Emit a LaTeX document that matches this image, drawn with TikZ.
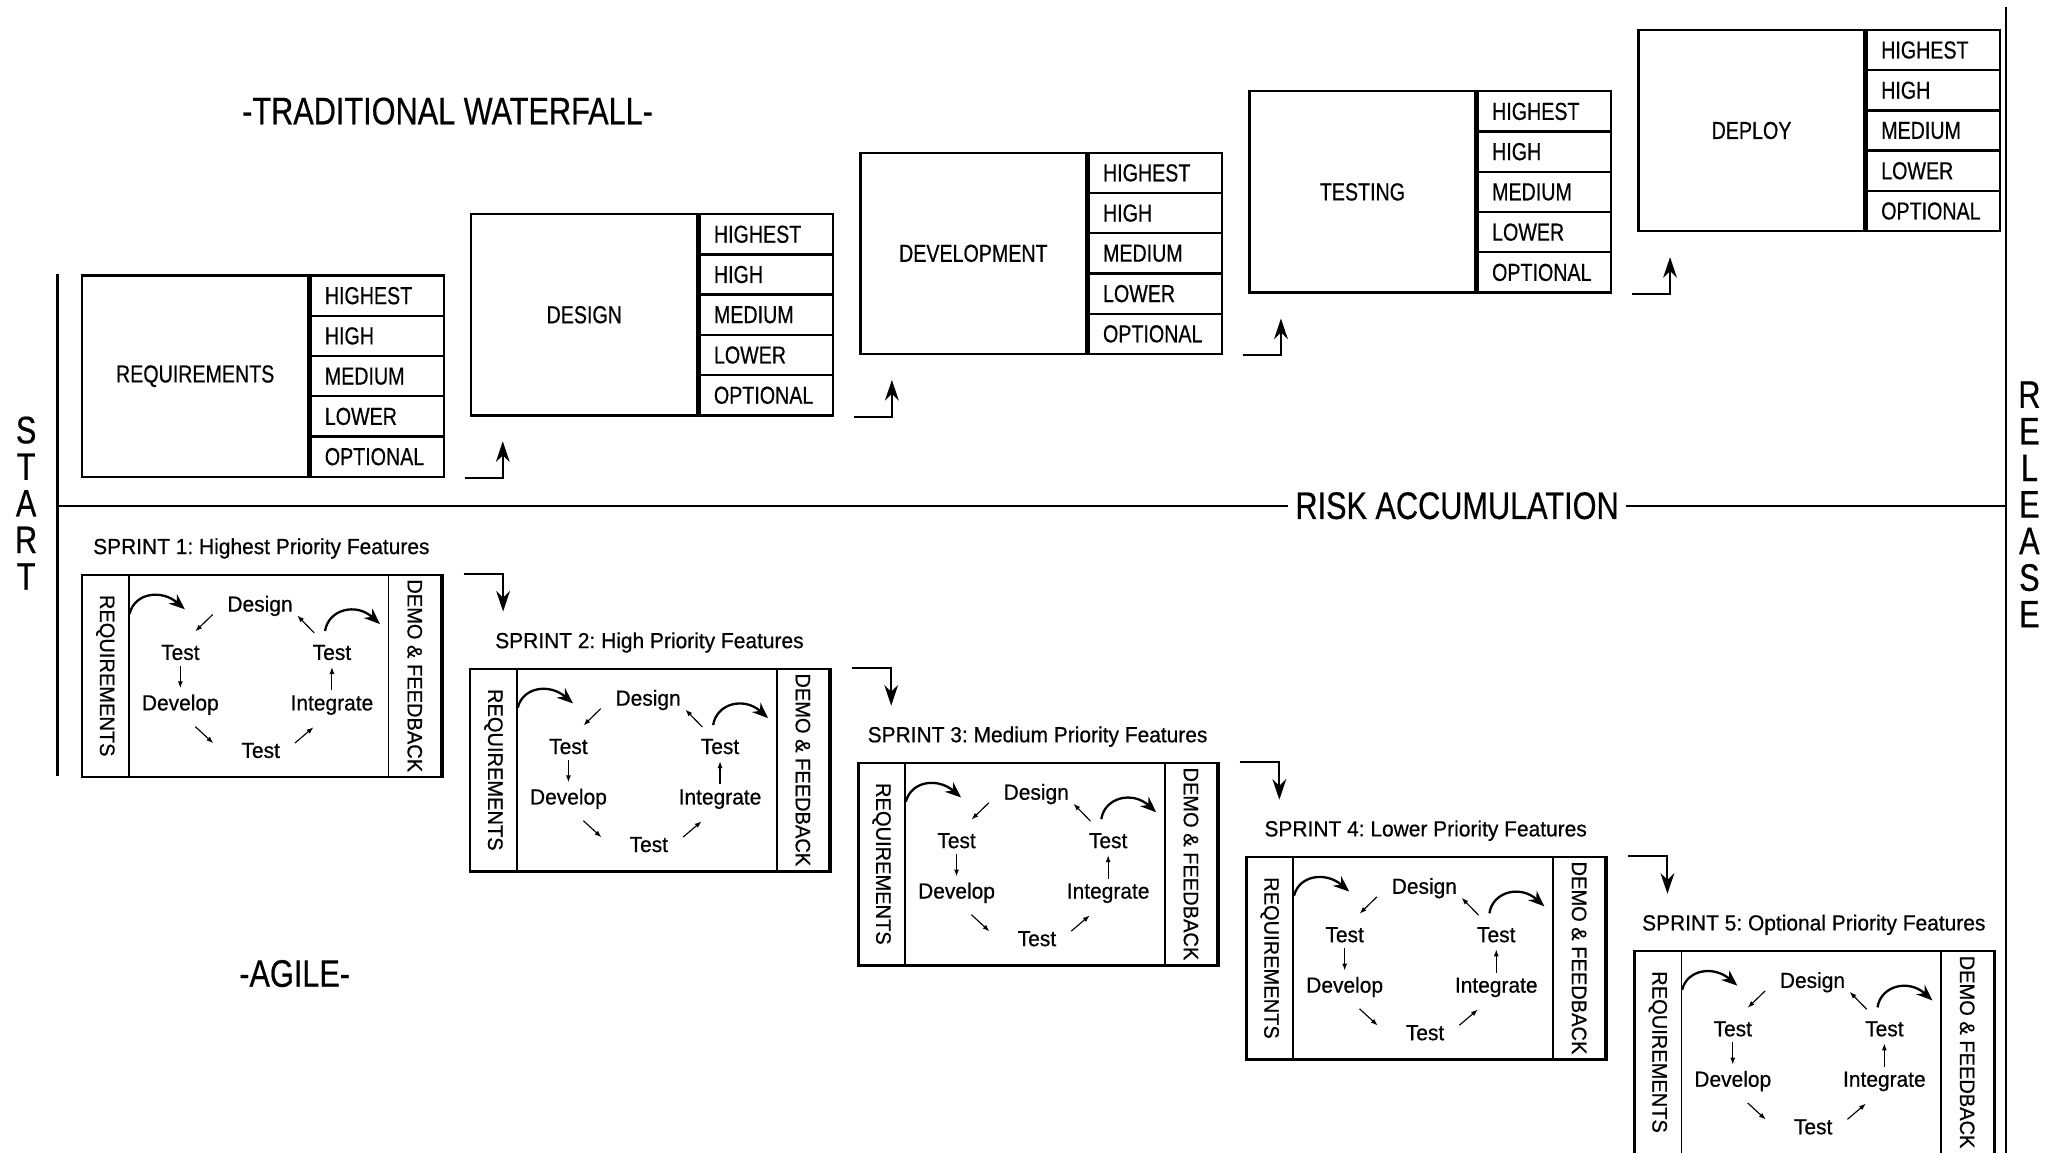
\documentclass[tikz,border=0pt]{standalone}
\usepackage{fontspec}
\setmainfont{Liberation Sans}[FakeStretch=0.8, FakeBold=0.5]
\newfontfamily\sprintfont{Liberation Sans}[FakeStretch=0.96, FakeBold=0.6]
\frenchspacing
\usetikzlibrary{calc}
\usetikzlibrary{arrows.meta}
\tikzset{>=latex}
\tikzset{
  bigtext/.style={font=\fontsize{16.7}{15.94}\selectfont, inner sep=0pt},
  stagebox/.style={draw, line width=1pt, minimum width=3.46cm, minimum height=3.08cm, inner sep=0pt, font=\fontsize{10.7}{12}\selectfont},
  priobox/.style={draw, line width=1pt, minimum width=2.04cm, minimum height=0.616cm, inner sep=0pt, text width=1.6cm, align=left, font=\fontsize{10.7}{12}\selectfont},
  flow/.style={line width=0.9pt, -{Stealth[length=9pt,width=6pt]}},
  sprintbox/.style={draw, line width=1pt, minimum width=5.52cm, minimum height=3.1cm, inner sep=0pt},
  colbox/.style={draw, line width=0.7pt, minimum height=3.1cm, inner sep=0pt},
  coltext/.style={font=\sprintfont\fontsize{9.1}{11}\selectfont, inner sep=0pt, rotate=-90},
  cyc/.style={font=\sprintfont\fontsize{9.5}{11}\selectfont, inner sep=0pt, anchor=base},
  cycarrow/.style={line width=0.5pt, -{Latex[length=3pt,width=2.2pt]}},
  curvearrow/.style={line width=1pt, -{Stealth[length=7pt,width=5.5pt]}}
}

\begin{document}
\begin{tikzpicture}[x=0.02cm, y=-0.02cm]
\useasboundingbox (0,0) rectangle (1568,882);

% headings
\node[bigtext] (waterfall) at (342.5,85) {-TRADITIONAL WATERFALL-};
\node[bigtext] (agile) at (225.5,745) {-AGILE-};

% start and release
\node[bigtext, align=center] (start) at (20,385) {S\\T\\A\\R\\T};
\node[bigtext, align=center] (release) at (1553,386) {R\\E\\L\\E\\A\\S\\E};
\coordinate (starttop) at (44,210);
\coordinate (startbot) at (44,594);
\coordinate (reltop) at (1535,5);
\coordinate (relbot) at (1535,882);
\draw[line width=1pt] (starttop) -- (startbot);
\draw[line width=1pt] (reltop) -- (relbot);

% risk line
\node[bigtext, inner xsep=0.1cm] (risk) at (1115,387) {RISK ACCUMULATION};
\draw[line width=1pt] (startbot |- risk) -- (risk) -- (relbot |- risk);

% waterfall stages
\foreach \i/\stage/\lbl in {0/req/REQUIREMENTS, 1/des/DESIGN, 2/dev/DEVELOPMENT, 3/tst/TESTING, 4/dep/DEPLOY}{
  \node[stagebox, anchor=north west] (\stage) at ({62+297.75*\i},{210-47*\i}) {\lbl};
  \foreach \j/\prio in {0/HIGHEST, 1/HIGH, 2/MEDIUM, 3/LOWER, 4/OPTIONAL}
    \node[priobox, anchor=north west] (\stage\j) at ($(\stage.north east)+(0,30.8*\j)$) {\prio};
}

% stage to stage
\foreach \a/\b in {req/des, des/dev, dev/tst, tst/dep}
  \draw[flow] ($(\a4.south east)+(15,0)$) -| ($(\b.south west)+(25,19)$);

% sprints
\foreach \i/\level in {1/Highest, 2/High, 3/Medium, 4/Lower, 5/Optional}{
  \begin{scope}[shift={({62+297*(\i-1)},{439+72*(\i-1)})}]
    \node[sprintbox, anchor=north west] (sp\i) at (0,0) {};
    \node[colbox, anchor=north west, minimum width=0.72cm] (sreq\i) at (0,0) {};
    \node[colbox, anchor=north east, minimum width=0.8cm] (sdemo\i) at (276,0) {};
    \node[coltext] (sreqt\i) at (sreq\i) {REQUIREMENTS};
    \node[coltext] (sdemot\i) at (sdemo\i) {DEMO \& FEEDBACK};
    \node[cyc] (sptitle\i) at (138,-15) {SPRINT \i: \level\ Priority Features};
    % cycle
    \node[cyc] (design\i) at (137,29) {Design};
    \node[cyc] (testl\i) at (76,66) {Test};
    \node[cyc] (develop\i) at (76,104.6) {Develop};
    \node[cyc] (testb\i) at (137.5,141) {Test};
    \node[cyc] (integrate\i) at (192,104.6) {Integrate};
    \node[cyc] (testr\i) at (192,66) {Test};
    % design to test
    \draw[cycarrow] ($(design\i.south west)+(-11,-1.5)$) -- ($(testl\i.north east)+(-3.6,-10)$);
    % test to develop
    \draw[cycarrow, shorten <=0.08cm, shorten >=0.09cm] (testl\i.south) -- (develop\i.north);
    % develop to test
    \draw[cycarrow] ($(develop\i.south)+(11.4,8.6)$) -- ($(testb\i.west)+(-21.2,-5.6)$);
    % test to integrate
    \draw[cycarrow] ($(testb\i.north east)+(11.2,0.4)$) -- ($(integrate\i.south)+(-14.1,9.1)$);
    % integrate to test
    \draw[cycarrow, shorten <=0.07cm, shorten >=0.1cm] (integrate\i.north) -- (testr\i.south);
    % test to design
    \draw[cycarrow] ($(testr\i.north)+(-13.5,-8.8)$) -- ($(design\i.south east)+(3.2,-0.8)$);
    % in from requirements, out to demo
    \draw[curvearrow] ($(sreq\i.north east)+(0,30.5)$) .. controls +(4,-16) and +(-17.8,-15.4) .. ($(design\i.west)+(-32.2,2.6)$);
    \draw[curvearrow] ($(testr\i.north east)+(-20.3,-10.3)$) .. controls +(2.6,-16.7) and +(-18.2,-16.6) .. ($(sdemo\i.north west)+(-6,38.6)$);
  \end{scope}
}

% sprint to sprint
\foreach \a/\b in {1/2, 2/3, 3/4, 4/5}
  \draw[flow] ($(sp\a.north east)+(15,0)$) -| ($(sp\b.north west)+(26,-43)$);
\end{tikzpicture}
\end{document}
